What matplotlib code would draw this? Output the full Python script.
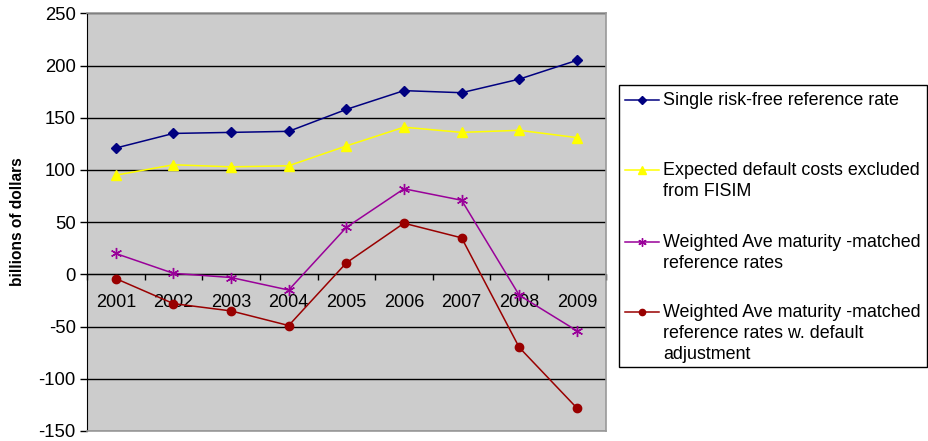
import numpy as np
import matplotlib.pyplot as plt
from matplotlib.lines import Line2D
from matplotlib.patches import Rectangle

plt.rcParams['font.family'] = ['Liberation Sans', 'DejaVu Sans']
plt.rcParams['axes.unicode_minus'] = False

years = ['2001', '2002', '2003', '2004', '2005', '2006', '2007', '2008', '2009']
single_rate = [121, 135, 136, 137, 158, 176, 174, 187, 205]
default_costs = [95, 105, 103, 104, 123, 141, 136, 138, 131]
weighted_rates = [20, 1, -3, -15, 45, 82, 71, -20, -54]
weighted_adj = [-4, -28, -35, -49, 11, 49, 35, -70, -128]

labels = ['Single risk-free reference rate',
          'Expected default costs excluded\nfrom FISIM',
          'Weighted Ave maturity -matched\nreference rates',
          'Weighted Ave maturity -matched\nreference rates w. default\nadjustment']

styles = [
    dict(color='#000080', marker='D', ms=5.5),
    dict(color='#FFFF00', marker='^', ms=7.5),
    dict(color='#990099', marker=(6, 2, 0), ms=8, mew=1.0),
    dict(color='#990000', marker='o', ms=6),
]

fig = plt.figure(figsize=(9.29, 4.41), dpi=100)
ax = fig.add_axes([0.0936, 0.0227, 0.5584, 0.947])
ax.set_facecolor('#CCCCCC')

ymin, ymax = -150, 250
ax.set_ylim(ymin, ymax)
ax.set_xlim(-0.5, len(years) - 0.5)
ax.set_yticks(np.arange(-150, 251, 50))
ax.tick_params(axis='y', labelsize=13.3, length=5, width=1, direction='out', pad=3)
ax.grid(axis='y', color='black', linewidth=1)
ax.set_axisbelow(True)

for s in ['top', 'right', 'bottom']:
    ax.spines[s].set_color('#999999')
    ax.spines[s].set_linewidth(1.2)
ax.spines['left'].set_color('black')
ax.tick_params(axis='x', bottom=False, labelbottom=False)

x = np.arange(len(years))
series = [single_rate, default_costs, weighted_rates, weighted_adj]
for vals, st in zip(series, styles):
    ax.plot(x, vals, linewidth=1.1, clip_on=False, zorder=3, **st)

# category axis drawn through zero
sec = ax.secondary_xaxis((0 - ymin) / (ymax - ymin))
sec.set_xticks(x, labels=years)
sec.set_xticks(np.arange(-0.5, len(years), 1), minor=True)
sec.tick_params(which='major', length=0, pad=14, labelsize=13)
sec.tick_params(which='minor', length=4.5, width=1, direction='out')
sec.spines['bottom'].set_color('black')

fig.text(18 / 929, 0.497, 'billions of dollars', rotation=90, ha='center',
         va='center', fontsize=11.2, fontweight='bold')

# legend box
W, H = 929, 441
fig.patches.append(Rectangle((619 / W, 1 - 367 / H), (927 - 619) / W, (367 - 85) / H,
                             transform=fig.transFigure, facecolor='white',
                             edgecolor='black', linewidth=1))
rows = [100, 170, 242, 312]
for lab, st, yy in zip(labels, styles, rows):
    yf = 1 - yy / H
    fig.lines.append(Line2D([625 / W, 659 / W], [yf, yf], transform=fig.transFigure,
                            color=st['color'], linewidth=1.1))
    fig.lines.append(Line2D([642 / W], [yf], transform=fig.transFigure,
                            color=st['color'], marker=st['marker'],
                            ms=st['ms'] * 0.75, mew=st.get('mew', 1)))
    fig.text(663 / W, yf + 8 / H, lab, ha='left', va='top', fontsize=12.9,
             linespacing=1.32)

fig.savefig('out.png', dpi=100)
